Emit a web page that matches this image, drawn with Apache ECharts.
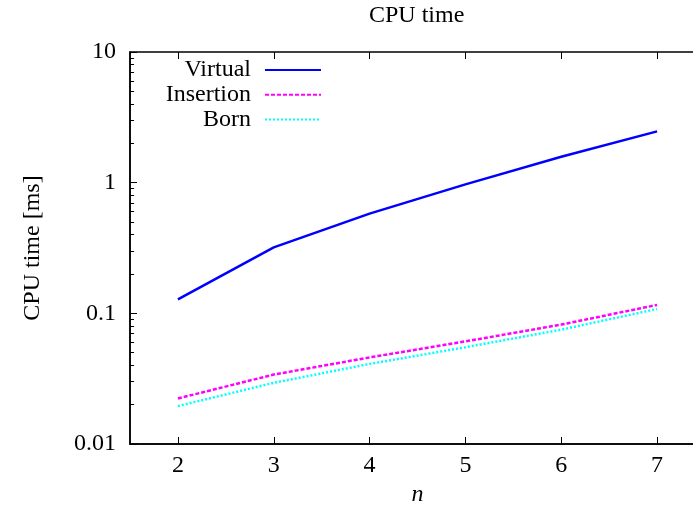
<!DOCTYPE html>
<html>
<head>
<meta charset="utf-8">
<script src="https://cdn.jsdelivr.net/npm/echarts@6/dist/echarts.min.js"></script>
<style>
  html, body { margin: 0; padding: 0; background: #fff; }
  #main { width: 693px; height: 505px; }
</style>
</head>
<body>
<div id="main"></div>
<script>
var n = [2, 3, 4, 5, 6, 7];
var virtual = [0.128, 0.32, 0.58, 0.97, 1.58, 2.47];
var insertion = [0.0223, 0.034, 0.046, 0.061, 0.082, 0.116];
var born = [0.0195, 0.0294, 0.041, 0.055, 0.075, 0.108];
var yMajor = [0.01, 0.1, 1, 10];
var yMinor = [0.02, 0.03, 0.04, 0.05, 0.06, 0.07, 0.08, 0.09,
              0.2, 0.3, 0.4, 0.5, 0.6, 0.7, 0.8, 0.9,
              2, 3, 4, 5, 6, 7, 8, 9];

var font = 'Liberation Serif';

function pairs(ys) {
    return n.map(function (x, i) { return [x, ys[i]]; });
}

var myChart = echarts.init(document.getElementById('main'));

option = {
    animation: false,
    title: {
        text: 'CPU time',
        left: 369,
        top: 4,
        padding: 0,
        textStyle: { fontFamily: font, fontSize: 24, fontWeight: 'normal', color: '#000' }
    },
    legend: {
        orient: 'vertical',
        align: 'right',
        right: 371,
        top: 58,
        padding: 0,
        itemWidth: 56,
        itemHeight: 14,
        itemGap: 0.8,
        itemStyle: { opacity: 0 },
        textStyle: { fontFamily: font, fontSize: 24, color: '#000', lineHeight: 20, padding: [0, 9, 0, 0] },
        data: ['Virtual', 'Insertion', 'Born']
    },
    grid: {
        left: 130,
        top: 52,
        right: -12,
        bottom: 61,
        outerBoundsMode: 'none',
        containLabel: false,
        show: true,
        borderColor: '#000',
        borderWidth: 1.5
    },
    xAxis: [{
        type: 'value',
        min: 1.5,
        max: 7.5,
        name: 'n',
        nameLocation: 'middle',
        nameGap: 34,
        nameTextStyle: { fontFamily: font, fontSize: 24, fontStyle: 'italic', color: '#000' },
        axisLine: { lineStyle: { color: '#000', width: 1.5 } },
        axisTick: { inside: true, length: 7, customValues: n, lineStyle: { color: '#000' } },
        axisLabel: { customValues: n, margin: 10, fontFamily: font, fontSize: 24, color: '#000' },
        splitLine: { show: false }
    }, {
        type: 'value',
        position: 'top',
        min: 1.5,
        max: 7.5,
        axisLine: { show: false },
        axisTick: { inside: true, length: 7, customValues: n, lineStyle: { color: '#000' } },
        axisLabel: { show: false },
        splitLine: { show: false }
    }],
    yAxis: [{
        type: 'log',
        logBase: 10,
        min: 0.01,
        max: 10,
        name: 'CPU time [ms]',
        nameLocation: 'middle',
        nameGap: 85,
        nameTextStyle: { fontFamily: font, fontSize: 24, color: '#000' },
        axisLine: { lineStyle: { color: '#000', width: 1.5 } },
        axisTick: { inside: true, length: 7, customValues: yMajor, lineStyle: { color: '#000' } },
        axisLabel: {
            customValues: yMajor,
            margin: 14,
            fontFamily: font,
            fontSize: 24,
            color: '#000',
            formatter: function (v) { return String(+v.toPrecision(2)); }
        },
        splitLine: { show: false }
    }, {
        type: 'log',
        logBase: 10,
        min: 0.01,
        max: 10,
        position: 'left',
        axisLine: { show: false },
        axisTick: { inside: true, length: 4, customValues: yMinor, lineStyle: { color: '#000' } },
        axisLabel: { show: false },
        splitLine: { show: false }
    }],
    series: [{
        name: 'Virtual',
        type: 'line',
        symbol: 'none',
        showSymbol: false,
        color: '#0000ff',
        lineStyle: { width: 2.5, type: 'solid' },
        data: pairs(virtual)
    }, {
        name: 'Insertion',
        type: 'line',
        symbol: 'none',
        showSymbol: false,
        color: '#ff00ff',
        lineStyle: { width: 2.5, type: [4, 2] },
        data: pairs(insertion)
    }, {
        name: 'Born',
        type: 'line',
        symbol: 'none',
        showSymbol: false,
        color: '#00ffff',
        lineStyle: { width: 2.5, type: [2, 2] },
        data: pairs(born)
    }]
};
myChart.setOption(option);
</script>
</body>
</html>
